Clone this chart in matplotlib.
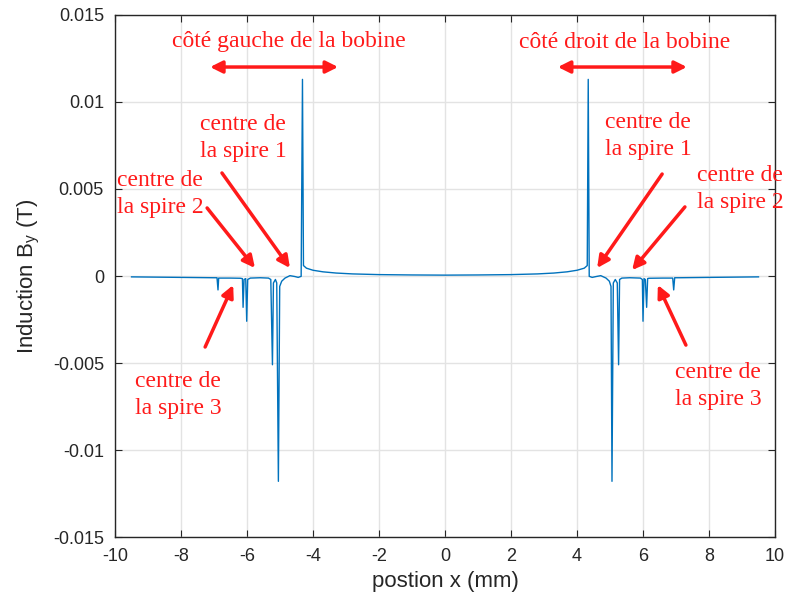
import numpy as np
import matplotlib
matplotlib.use('Agg')
import matplotlib.pyplot as plt

plt.rcParams['font.family'] = ['Liberation Sans', 'DejaVu Sans']
plt.rcParams['axes.unicode_minus'] = False

# B_y along x
pos_x = [-9.50, -8.00, -7.00, -6.91, -6.88, -6.86, -6.50, -6.20, -6.14, -6.12,
         -6.09, -6.04, -6.01, -5.98, -5.90, -5.60, -5.35, -5.28, -5.23, -5.20,
         -5.14, -5.10, -5.05, -5.01, -4.95, -4.85, -4.70, -4.55, -4.45, -4.36,
         -4.32, -4.29, -4.20, -4.00, -3.70, -3.30, -2.80, -2.00, -1.00, 0.00,
         1.00, 2.00, 2.80, 3.30, 3.70, 4.00, 4.22, 4.31, 4.34, 4.37,
         4.46, 4.58, 4.72, 4.88, 4.98, 5.03, 5.06, 5.10, 5.16, 5.22,
         5.26, 5.29, 5.36, 5.60, 5.92, 5.98, 6.00, 6.03, 6.07, 6.11,
         6.14, 6.18, 6.60, 6.90, 6.93, 6.96, 7.10, 8.00, 9.50]
b_y = [-0.00005, -0.00008, -0.00010, -0.00010, -0.00080, -0.00012, -0.00012, -0.00013, -0.00015, -0.00180,
       -0.00020, -0.00015, -0.00260, -0.00020, -0.00012, -0.00010, -0.00012, -0.00020, -0.00510, -0.00040,
       -0.00020, -0.00040, -0.01180, -0.00060, -0.00030, -0.00012, 0.00002, -0.00003, -0.00008, -0.00002,
       0.01130, 0.00060, 0.00045, 0.00033, 0.00024, 0.00017, 0.00012, 0.00008, 0.00006, 0.00005,
       0.00006, 0.00008, 0.00012, 0.00017, 0.00024, 0.00033, 0.00045, 0.00060, 0.01130, -0.00002,
       -0.00008, -0.00003, 0.00002, -0.00012, -0.00030, -0.00060, -0.01180, -0.00040, -0.00020, -0.00040,
       -0.00510, -0.00020, -0.00012, -0.00010, -0.00012, -0.00020, -0.00260, -0.00015, -0.00020, -0.00180,
       -0.00015, -0.00013, -0.00012, -0.00012, -0.00080, -0.00010, -0.00010, -0.00008, -0.00005]

x_ticks = [-10, -8, -6, -4, -2, 0, 2, 4, 6, 8, 10]
y_ticks = [-0.015, -0.01, -0.005, 0, 0.005, 0.01, 0.015]
y_tick_labels = ['-0.015', '-0.01', '-0.005', '0', '0.005', '0.01', '0.015']

red = '#ff1a1a'
serif = ['Liberation Serif', 'DejaVu Serif']

fig = plt.figure(figsize=(7.88, 6.07), dpi=100)
ax = fig.add_axes([0.146, 0.1153, 0.8375, 0.86])

ax.plot(pos_x, b_y, color='#0072BD', lw=1.0)

ax.set_xlim(-10, 10)
ax.set_ylim(-0.015, 0.015)
ax.set_xticks(x_ticks)
ax.set_yticks(y_ticks)
ax.set_yticklabels(y_tick_labels)
ax.grid(True, color='#e3e3e3', lw=1.0)
ax.set_axisbelow(True)
ax.tick_params(direction='in', top=True, right=True, length=5, labelsize=13,
               colors='#262626', pad=8)
for s in ax.spines.values():
    s.set_color('#262626')
    s.set_linewidth(1.0)

ax.set_xlabel('postion x (mm)', fontsize=16, color='#262626', labelpad=4)
ax.set_ylabel(r'Induction B$_\mathregular{y}$ (T)', fontsize=16, color='#262626', labelpad=8)

# top labels with double arrows
ax.text(-4.74, 0.01316, 'côté gauche de la bobine', ha='center', va='baseline',
        fontsize=17, color=red, family=serif)
ax.text(5.45, 0.0131, 'côté droit de la bobine', ha='center', va='baseline',
        fontsize=17, color=red, family=serif)
dbl = dict(arrowstyle='<|-|>', color=red, lw=2.5, mutation_scale=18, shrinkA=0, shrinkB=0)
ax.annotate('', xy=(-7.12, 0.01201), xytext=(-3.24, 0.01201), arrowprops=dbl)
ax.annotate('', xy=(3.42, 0.01201), xytext=(7.33, 0.01201), arrowprops=dbl)

# "centre de la spire" labels (anchor = baseline of the second line)
one = dict(arrowstyle='-|>', color=red, lw=2.5, mutation_scale=18, shrinkA=0, shrinkB=0)
labels = [
    ('centre de\nla spire 1', (-7.42, 0.00684), (-6.76, 0.00592), (-4.70, 0.00046)),
    ('centre de\nla spire 2', (-9.94, 0.00362), (-7.21, 0.00391), (-5.76, 0.00046)),
    ('centre de\nla spire 3', (-9.39, -0.00793), (-7.27, -0.00408), (-6.42, -0.00052)),
    ('centre de\nla spire 1', (4.85, 0.00695), (6.58, 0.00586), (4.61, 0.00046)),
    ('centre de\nla spire 2', (7.64, 0.00391), (7.27, 0.00397), (5.67, 0.00034)),
    ('centre de\nla spire 3', (6.97, -0.00741), (7.30, -0.00397), (6.45, -0.00052)),
]
for txt, tpos, a0, a1 in labels:
    ax.text(tpos[0], tpos[1], txt, ha='left', va='baseline', fontsize=17,
            color=red, family=serif, linespacing=1.35, clip_on=False)
    ax.annotate('', xy=a1, xytext=a0, arrowprops=one)

fig.savefig('out.png', dpi=100)
